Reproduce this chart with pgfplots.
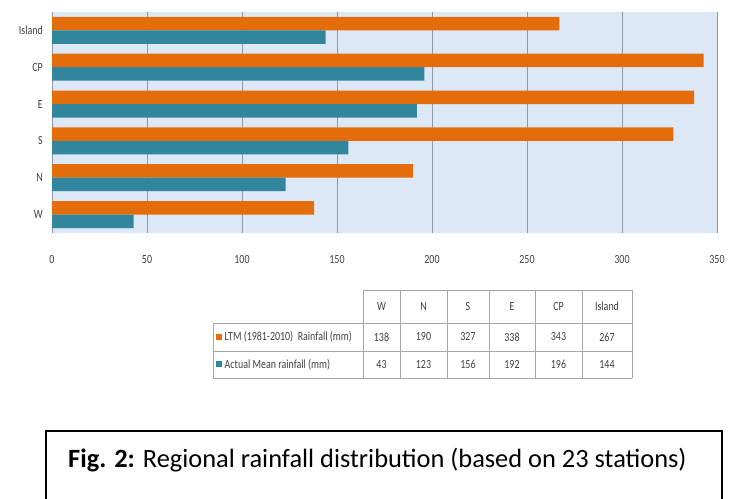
\documentclass[border=0pt]{standalone}
\usepackage{pgfplots}
\pgfplotsset{compat=1.18}
\usepackage{fontspec}
\setmainfont{Carlito}
\usepackage{graphicx}
\definecolor{ltm}{HTML}{E46C0A}
\definecolor{act}{HTML}{31859C}
\definecolor{bgblue}{HTML}{DCE8F6}
\definecolor{gridc}{HTML}{8E98A8}
\definecolor{tabline}{HTML}{A6A6A6}
\definecolor{txt}{HTML}{404040}
\newcommand{\sq}[1]{\scalebox{0.8}[1]{#1}}
\begin{document}
\begin{tikzpicture}[x=1bp,y=1bp]
\useasboundingbox (0,0) rectangle (729,499);
\begin{axis}[
  at={(52bp,266bp)}, anchor=south west,
  scale only axis, width=665bp, height=221bp,
  xmin=0, xmax=350, ymin=-0.5, ymax=5.5,
  xbar, bar width=13.5bp,
  xtick={0,50,...,350},
  xticklabels={\sq{0},\sq{50},\sq{100},\sq{150},\sq{200},\sq{250},\sq{300},\sq{350}},
  ytick={0,1,2,3,4,5},
  yticklabels={\sq{W},\sq{N},\sq{S},\sq{E},\sq{CP},\sq{Island}},
  xmajorgrids, major grid style={color=gridc, line width=0.6bp},
  axis line style={draw=none},
  major tick length=0pt,
  axis background/.style={fill=bgblue},
  tick label style={font=\fontsize{12.5}{14}\selectfont, text=txt},
  xticklabel style={anchor=center, yshift=-27bp, inner sep=0pt},
  yticklabel style={anchor=east, xshift=-9bp, inner sep=0pt},
]
\addplot[fill=ltm, draw=none, bar shift=6.75bp] coordinates {(138,0) (190,1) (327,2) (338,3) (343,4) (267,5)};
\addplot[fill=act, draw=none, bar shift=-6.75bp] coordinates {(43,0) (123,1) (156,2) (192,3) (196,4) (144,5)};
\end{axis}
% data table
\begin{scope}[tabline, line width=0.9bp]
\draw (363,209) -- (632,209);
\draw (213,176) -- (632,176);
\draw (213,148) -- (632,148);
\draw (213,121) -- (632,121);
\draw (213,176) -- (213,121);
\foreach \xx in {363,400,447,489,535,582,632} \draw (\xx,209) -- (\xx,121);
\end{scope}
\begin{scope}[every node/.style={font=\fontsize{12.5}{14}\selectfont, text=txt, inner sep=0pt}]
\foreach \xx/\lab in {381.5/W,423.5/N,468/S,512/E,558.5/CP,607/Island}
  \node at (\xx,192.5) {\sq{\lab}};
\foreach \xx/\v in {381.5/138,423.5/190,468/327,512/338,558.5/343,607/267}
  \node at (\xx,162) {\sq{\v}};
\foreach \xx/\v in {381.5/43,423.5/123,468/156,512/192,558.5/196,607/144}
  \node at (\xx,134.5) {\sq{\v}};
\fill[ltm] (216,159) rectangle (222,165);
\fill[act] (216,131.5) rectangle (222,137.5);
\node[anchor=west] at (224.5,162) {\sq{LTM (1981-2010)\ \ Rainfall (mm)}};
\node[anchor=west] at (224.5,134.5) {\sq{Actual Mean rainfall (mm)}};
\end{scope}
% caption box
\draw[black, line width=1.3bp] (46,-2) -- (46,68) -- (722,68) -- (722,-2);
\node[anchor=base west, inner sep=0pt, font=\fontsize{26.5}{31}\selectfont] at (68,31.3) {\textbf{Fig. 2:} Regional rainfall distribution (based on 23 stations)};
\end{tikzpicture}
\end{document}
